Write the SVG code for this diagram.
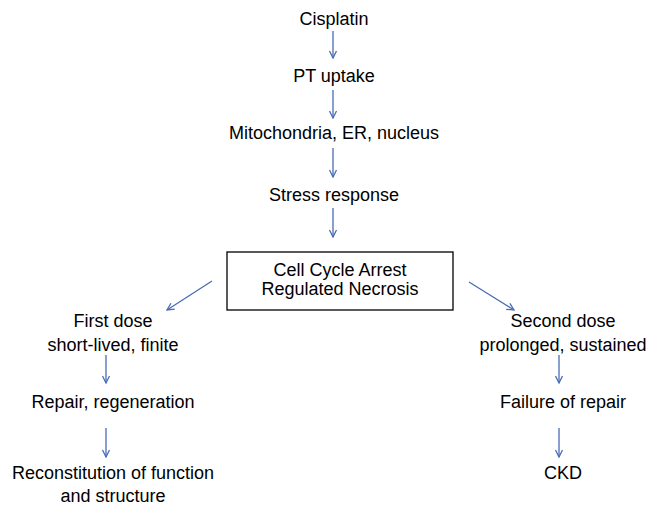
<svg xmlns="http://www.w3.org/2000/svg" width="658" height="514" viewBox="0 0 658 514">
<defs>
<style>
text{font-family:"Liberation Sans",Arial,sans-serif;font-size:18px;fill:#000;text-anchor:middle}
.c line{stroke:#4a6cb5;stroke-width:1.3;fill:none;marker-end:url(#ah)}
.box{fill:#fff;stroke:#000;stroke-width:1.3}
</style>
<marker id="ah" viewBox="0 0 10 10" refX="9" refY="5" markerWidth="10" markerHeight="10" markerUnits="userSpaceOnUse" orient="auto">
<path d="M2,1.5 L9,5 L2,8.5" fill="none" stroke="#4a6cb5" stroke-width="1.3"/>
</marker>
</defs>
<rect width="658" height="514" fill="#fff"/>
<g id="n1"><text x="334" y="25">Cisplatin</text></g>
<g id="n2"><text x="334" y="82">PT uptake</text></g>
<g id="n3"><text x="334" y="139">Mitochondria, ER, nucleus</text></g>
<g id="n4"><text x="334" y="201">Stress response</text></g>
<g id="n5"><rect class="box" x="227" y="252" width="226" height="58"/><text x="340" y="276">Cell Cycle Arrest</text><text x="340" y="295">Regulated Necrosis</text></g>
<g id="n6"><text x="113" y="327">First dose</text><text x="113" y="351">short-lived, finite</text></g>
<g id="n7"><text x="113" y="408">Repair, regeneration</text></g>
<g id="n8"><text x="113" y="479">Reconstitution of function</text><text x="113" y="502">and structure</text></g>
<g id="n9"><text x="563" y="327">Second dose</text><text x="563" y="351">prolonged, sustained</text></g>
<g id="n10"><text x="563" y="408">Failure of repair</text></g>
<g id="n11"><text x="563" y="479">CKD</text></g>
<g id="connectors" class="c">
<line x1="333" y1="31" x2="333" y2="58"/>
<line x1="333" y1="90" x2="333" y2="118"/>
<line x1="333" y1="148" x2="333" y2="177"/>
<line x1="333" y1="208" x2="333" y2="237"/>
<line x1="212" y1="281" x2="167" y2="310"/>
<line x1="469" y1="282" x2="514" y2="310"/>
<line x1="106" y1="355" x2="106" y2="383"/>
<line x1="106" y1="428" x2="106" y2="457"/>
<line x1="559" y1="355" x2="559" y2="383"/>
<line x1="559" y1="428" x2="559" y2="457"/>
</g>
</svg>
